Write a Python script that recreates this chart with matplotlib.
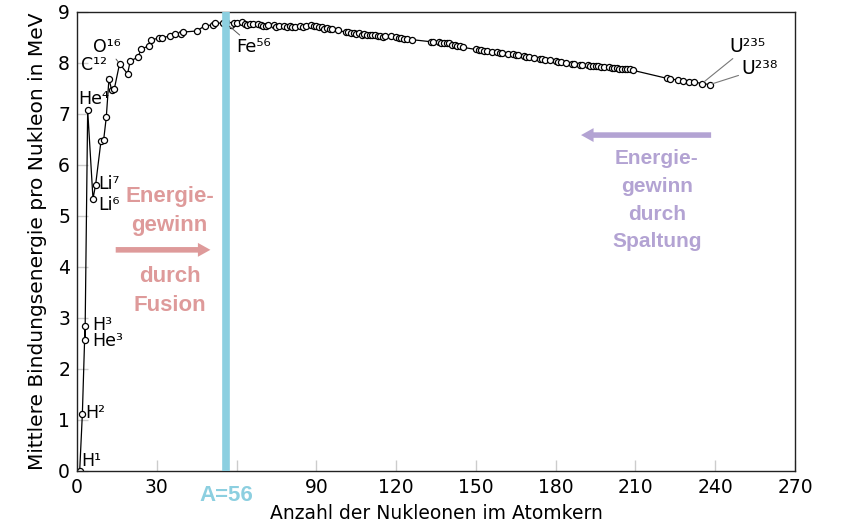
import numpy as np
import matplotlib
matplotlib.use("Agg")
import matplotlib.pyplot as plt

# Massenzahl A und mittlere Bindungsenergie pro Nukleon (MeV)
massenzahl = [1, 2, 3, 3, 4, 6, 7, 9, 10, 11, 12, 13, 14, 16, 19, 20, 23, 24, 27, 28,
              31, 32, 35, 37, 39, 40, 45, 48, 51, 52, 55, 56,
              58, 59, 60, 62, 63, 64, 65, 66, 68, 69, 70, 71, 72, 74, 75, 76, 78, 79,
              80, 81, 82, 84, 85, 86, 88, 89, 90, 91, 92, 93, 94, 95, 96, 98,
              101, 102, 103, 104, 105, 106, 107, 108, 109, 110, 111, 112, 113, 114,
              115, 116, 118, 120, 121, 122, 123, 124, 126,
              133, 134, 136, 137, 138, 139, 140, 141, 142, 143, 144, 145,
              150, 151, 152, 153, 154, 156, 158, 159, 160, 162, 164, 165, 166, 168,
              169, 170, 172, 174, 175, 176, 178, 180, 181, 182, 184, 186, 187, 189,
              190, 192, 193, 194, 195, 196, 197, 198, 200, 201, 202, 203, 204, 205,
              206, 207, 208, 209, 222, 223, 226, 228, 230, 232, 235, 238]
bindungsenergie = [0.0, 1.11, 2.83, 2.57, 7.07, 5.33, 5.61, 6.46, 6.48, 6.93, 7.68, 7.47,
                   7.48, 7.98, 7.78, 8.03, 8.11, 8.26, 8.33, 8.45,
                   8.48, 8.49, 8.52, 8.57, 8.56, 8.60, 8.62, 8.72, 8.74, 8.78, 8.77, 8.79,
                   8.73, 8.77, 8.78, 8.79, 8.75, 8.74, 8.76, 8.76, 8.76, 8.73, 8.72, 8.72,
                   8.73, 8.73, 8.70, 8.71, 8.72, 8.69,
                   8.71, 8.70, 8.69, 8.72, 8.70, 8.71, 8.73, 8.71, 8.71, 8.69, 8.69, 8.66,
                   8.67, 8.65, 8.65, 8.63,
                   8.60, 8.61, 8.58, 8.58, 8.57, 8.58, 8.55, 8.56, 8.55, 8.55, 8.54, 8.54,
                   8.52, 8.53,
                   8.51, 8.52, 8.52, 8.50, 8.48, 8.49, 8.47, 8.47, 8.45,
                   8.41, 8.41, 8.40, 8.39, 8.39, 8.38, 8.38, 8.35, 8.35, 8.33, 8.33, 8.30,
                   8.26, 8.25, 8.24, 8.23, 8.23, 8.21, 8.20, 8.19, 8.18, 8.17, 8.16, 8.15,
                   8.14, 8.13,
                   8.12, 8.11, 8.10, 8.08, 8.07, 8.06, 8.05, 8.03, 8.02, 8.02, 8.00, 7.98,
                   7.97, 7.96,
                   7.96, 7.95, 7.94, 7.94, 7.93, 7.93, 7.92, 7.91, 7.91, 7.90, 7.90, 7.89,
                   7.88, 7.88,
                   7.87, 7.87, 7.87, 7.85, 7.69, 7.68, 7.66, 7.64, 7.63, 7.62, 7.59, 7.57]

# Beschriftungen: (Text, x, y)
elemente = [("H¹", 1.5, 0.19), ("H²", 3.0, 1.13), ("H³", 5.6, 2.86), ("He³", 5.6, 2.54),
            ("He⁴", 0.4, 7.29), ("Li⁷", 7.9, 5.62), ("Li⁶", 7.9, 5.21)]

xticks = [0, 30, 60, 90, 120, 150, 180, 210, 240, 270]
xticklabels = ["0", "30", "", "90", "120", "150", "180", "210", "240", "270"]

rosa = "#de9a9a"
lila = "#b3a3d3"
blau = "#8ccfe0"

fig = plt.figure(figsize=(8.41, 5.28), dpi=100)
ax = fig.add_axes([0.0916, 0.1085, 0.8537, 0.8695])

ax.plot(massenzahl, bindungsenergie, color="black", lw=0.9, marker="o", ms=4.4,
        mfc="white", mec="black", mew=0.9, zorder=2)
ax.axvline(56, color=blau, lw=5.5, zorder=3)

for txt, x, y in elemente:
    ax.text(x, y, txt, fontsize=12.5, va="center", ha="left")

# Beschriftungen mit Hinweislinie
linie = dict(arrowstyle="-", color="#555555", lw=0.7, shrinkA=0, shrinkB=2)
ax.annotate("C¹²", xy=(12, 7.68), xytext=(1.5, 7.95), fontsize=12.5, va="center",
            arrowprops=linie)
ax.annotate("O¹⁶", xy=(16, 7.98), xytext=(6.0, 8.30), fontsize=12.5, va="center",
            arrowprops=linie)
ax.annotate("Fe⁵⁶", xy=(56.5, 8.75), xytext=(59.8, 8.31), fontsize=13, va="center",
            arrowprops=linie)
linie_u = dict(arrowstyle="-", color="#777777", lw=0.8, shrinkA=0, shrinkB=2)
ax.annotate("U²³⁵", xy=(235, 7.59), xytext=(245.5, 8.32), fontsize=13.5, va="center",
            arrowprops=linie_u)
ax.annotate("U²³⁸", xy=(238, 7.57), xytext=(249.8, 7.88), fontsize=13.5, va="center",
            arrowprops=linie_u)

# Energiegewinn-Pfeile und Texte
pfeil = "simple,head_length=0.9,head_width=1.0,tail_width=0.4"
ax.text(34.8, 5.10, "Energie-\ngewinn", color=rosa, fontsize=16, fontweight="bold",
        family="Liberation Sans", ha="center", va="center", linespacing=1.5)
ax.text(34.8, 3.52, "durch\nFusion", color=rosa, fontsize=16, fontweight="bold",
        family="Liberation Sans", ha="center", va="center", linespacing=1.5)
ax.annotate("", xy=(51.2, 4.33), xytext=(13.5, 4.33),
            arrowprops=dict(arrowstyle=pfeil, color=rosa, lw=0))
ax.text(218.0, 5.30, "Energie-\ngewinn\ndurch\nSpaltung", color=lila, fontsize=15,
        fontweight="bold", family="Liberation Sans", ha="center", va="center",
        linespacing=1.58)
ax.annotate("", xy=(188.5, 6.58), xytext=(239.5, 6.58),
            arrowprops=dict(arrowstyle=pfeil, color=lila, lw=0))

ax.text(56, -0.49, "A=56", color=blau, fontsize=16, fontweight="bold",
        family="Liberation Sans", ha="center", va="center", clip_on=False)

ax.set_xlim(0, 270)
ax.set_ylim(0, 9)
ax.set_xticks(xticks)
ax.set_xticklabels(xticklabels)
ax.set_yticks(np.arange(0, 10, 1))
ax.tick_params(direction="in", length=8, width=1, color="#cccccc", labelsize=13.5, pad=5)
for s in ax.spines.values():
    s.set_color("#222222")
    s.set_linewidth(1.0)

ax.set_xlabel("Anzahl der Nukleonen im Atomkern", fontsize=13.5, labelpad=5)
ax.set_ylabel("Mittlere Bindungsenergie pro Nukleon in MeV", fontsize=14.5, labelpad=8)

fig.savefig("out.png", dpi=100)
